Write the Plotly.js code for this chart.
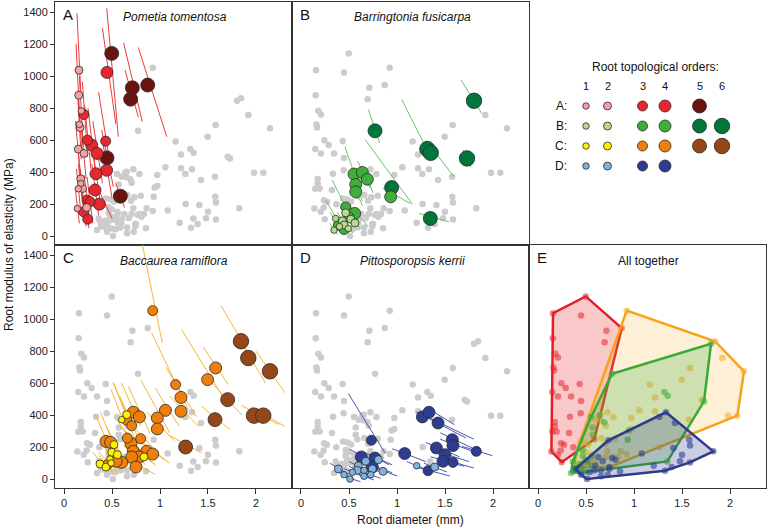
<!DOCTYPE html>
<html>
<head>
<meta charset="utf-8">
<script src="https://cdn.plot.ly/plotly-3.0.1.min.js"></script>
<style>
  html, body { margin: 0; padding: 0; background: #fff; }
  #chart { width: 768px; height: 528px; }
</style>
</head>
<body>
<div id="chart"></div>
<script>
// A: Pometia tomentosa
var aX = [0.497,0.712,0.872,0.694,0.448,0.587, 0.448,0.208,0.243,0.288,0.434,0.344,0.444,0.333,0.323,0.240,0.271,0.368,0.205,0.247, 0.156,0.153,0.180,0.160,0.167,0.149,0.208,0.174,0.174,0.149,0.194,0.236,0.139];
var aY = [1142,927,944,856,489,250, 1023,760,600,569,594,517,412,390,288,225,215,200,152,106, 1037,881,783,698,679,544,517,358,329,296,298,179,173];
var aOrd = [5,5,5,5,5,5, 4,3,3,4,3,4,4,4,4,3,3,4,3,3, 2,2,1,1,2,2,2,2,1,1,2,2,1];
var aSeg = [
  [0.445,1423,0.566,621],[0.621,1208,0.816,715],[0.774,1179,1.070,621],[0.635,1038,0.774,746],
  [0.392,663,0.514,308],[0.540,330,0.630,180],[0.400,1300,0.540,700],[0.191,965,0.246,496],
  [0.215,820,0.280,420],[0.250,800,0.330,380],[0.360,900,0.480,450],[0.300,720,0.400,330],
  [0.400,600,0.500,240],[0.290,580,0.380,200],[0.290,450,0.360,130],[0.210,380,0.270,90],
  [0.240,370,0.300,80],[0.330,330,0.500,110],[0.180,280,0.230,60],[0.230,190,0.260,50],
  [0.135,1392,0.177,870],[0.125,1200,0.165,720],[0.160,1000,0.200,560],[0.140,900,0.180,480],
  [0.150,850,0.190,500],[0.120,720,0.170,380],[0.180,680,0.230,360],[0.150,520,0.200,200],
  [0.150,450,0.190,230],[0.130,420,0.170,180],[0.170,420,0.210,190],[0.220,260,0.250,100],
  [0.120,280,0.160,80]
];

// B: Barringtonia fusicarpa
var bX = [1.802,0.771,1.316,1.351,1.729,0.944,1.347, 0.934,0.552,0.639,0.691,0.570,0.570,0.465,0.559,0.389,0.448,0.500, 0.465,0.518,0.431,0.562,0.361,0.344,0.493,0.400,0.450];
var bY = [846,658,544,521,486,304,111, 246,388,398,356,323,277,183,142,69,42,120, 146,106,96,83,111,38,48,60,70];
var bOrd = [6,5,6,6,6,5,5, 4,4,4,4,4,4,3,4,3,3,3, 2,2,2,2,1,1,1,1,2];
var bSeg = [
  [1.667,975,1.882,767],[0.701,792,0.819,583],[1.049,854,1.330,520],[1.300,600,1.594,371],
  [1.690,540,1.770,430],[0.667,604,1.160,200],[1.229,142,1.542,90],[0.850,300,1.140,204],
  [0.458,558,0.620,280],[0.590,470,0.720,300],[0.660,410,0.750,270],[0.530,400,0.640,220],
  [0.520,360,0.640,190],[0.326,350,0.500,140],[0.500,200,0.700,60],[0.300,150,0.420,40],
  [0.400,90,0.500,20],[0.450,180,0.580,60],[0.420,200,0.500,110],[0.470,150,0.580,70],
  [0.380,150,0.470,60],[0.520,120,0.620,50],[0.257,225,0.400,80],[0.300,80,0.380,10],
  [0.450,80,0.540,20],[0.350,100,0.440,30],[0.400,110,0.500,40]
];

// C: Baccaurea ramiflora
var cX = [1.844,1.920,2.146,1.705,1.573,1.979,2.076,1.267, 0.924,1.580,1.496,1.163,1.219,1.219,1.056,0.972,0.972,0.722,0.785,0.653,0.705,0.437,0.486,0.660,0.698,0.799,0.722,0.861,0.924,0.785,0.705,0.601,0.542,0.750,0.451, 0.653,0.601,0.521,0.497,0.556,0.479,0.490,0.375,0.437,0.833];
var cY = [862,757,674,497,372,397,397,201, 1053,695,622,591,511,424,430,382,314,418,389,368,334,236,230,257,222,253,174,174,157,139,139,105,112,76,91, 403,372,216,168,153,126,101,95,76,139];
var cOrd = [6,6,6,5,5,6,6,5, 3,4,4,3,4,4,4,4,4,4,4,3,3,4,4,3,4,3,4,4,4,4,4,4,4,4,3, 2,1,2,2,2,1,1,2,2,2];
var cSeg = [
  [1.635,1085,1.950,760],[1.800,900,2.100,600],[2.000,800,2.302,540],[1.540,601,1.850,403],
  [1.434,455,1.729,310],[1.850,460,2.240,341],[1.950,450,2.300,330],[1.087,278,1.434,164],
  [0.816,1466,1.024,851],[1.450,826,1.710,591],[1.225,935,1.694,476],[0.913,914,1.295,435],
  [1.060,700,1.380,390],[1.100,520,1.400,330],[0.950,570,1.200,330],[0.800,620,1.100,290],
  [0.860,420,1.150,240],[0.600,600,0.800,330],[0.670,580,0.900,280],[0.520,600,0.740,250],
  [0.580,520,0.800,220],[0.330,400,0.520,130],[0.380,420,0.580,120],[0.550,370,0.780,190],
  [0.600,320,0.820,160],[0.720,330,0.950,180],[0.620,260,0.850,120],[0.750,250,1.050,120],
  [0.820,230,1.100,100],[0.700,200,0.950,90],[0.620,210,0.850,90],[0.520,170,0.750,60],
  [0.450,190,0.700,60],[0.650,130,0.950,30],[0.360,170,0.550,50],[0.510,605,0.700,340],
  [0.490,560,0.650,310],[0.440,330,0.600,150],[0.420,280,0.580,110],[0.480,260,0.640,100],
  [0.420,200,0.540,80],[0.430,170,0.560,60],[0.300,170,0.450,50],[0.360,150,0.520,30],
  [0.760,190,0.950,90]
];

// D: Pittosporopsis kerrii
var dX = [0.733,1.264,1.333,1.427,1.576,1.583,1.410,1.500,1.479,1.583,1.826,1.080,1.323,0.628,0.771,0.743, 0.806,0.674,0.597,0.743,0.656,0.854,0.389,0.448,0.510,0.535,0.656,0.587,1.205,1.392,0.726];
var dY = [243,389,418,351,247,210,195,153,112,105,174,160,53,139,132,76, 122,112,84,64,55,49,64,28,1,43,18,55,84,76,28];
var dOrd = [3,4,4,4,4,4,4,4,4,3,3,4,3,4,4,4, 2,2,2,2,1,2,2,1,1,1,1,2,1,2,1];
var dSeg = [
  [0.493,535,0.875,164],[1.200,420,1.720,257],[1.300,450,1.600,340],[1.350,380,1.800,250],
  [1.450,290,1.800,190],[1.450,250,1.850,160],[1.300,230,1.650,140],[1.380,180,1.750,110],
  [1.350,140,1.700,80],[1.480,125,1.800,70],[1.680,205,1.993,147],[0.950,190,1.300,110],
  [1.200,75,1.550,20],[0.500,190,0.800,90],[0.650,170,0.950,90],[0.620,110,0.950,40],
  [0.720,150,0.920,90],[0.580,140,0.800,80],[0.500,110,0.700,50],[0.650,90,0.880,30],
  [0.560,80,0.760,30],[0.750,75,1.000,20],[0.300,100,0.500,30],[0.360,50,0.550,5],
  [0.420,20,0.620,-15],[0.450,65,0.650,15],[0.560,40,0.760,-5],[0.500,80,0.700,30],
  [1.100,110,1.350,50],[1.280,100,1.520,45],[0.630,50,0.830,5]
];

var speciesKeys = ['A', 'B', 'C', 'D'];
var speciesNames = ['Pometia tomentosa', 'Barringtonia fusicarpa', 'Baccaurea ramiflora', 'Pittosporopsis kerrii'];
var maxOrder = [5, 6, 6, 4];
var orderLabels = ['1', '2', '3', '4', '5', '6'];
var xTicks = [0, 0.5, 1, 1.5, 2];
var xTickText = ['0', '0.5', '1', '1.5', '2'];
var yTicks = [0, 200, 400, 600, 800, 1000, 1200, 1400];

var colores = {
  A: ['#f3a0a6', '#f3a0a6', '#e8262d', '#e8262d', '#6a1410', '#6a1410'],
  B: ['#b5d98e', '#b5d98e', '#3fae3a', '#3fae3a', '#00773a', '#00773a'],
  C: ['#fff200', '#fff200', '#f07e0a', '#f07e0a', '#95471a', '#95471a'],
  D: ['#7fb4e2', '#7fb4e2', '#2e3d91', '#2e3d91', '#2e3d91', '#2e3d91']
};
var lineColors = { A: '#ee3b3b', B: '#6cc46a', C: '#f9b53a', D: '#4b58b3' };
var hullLine = { A: '#e31e26', B: '#3aa935', C: '#f7a21b', D: '#2e3a8c' };
var hullFill = { A: 'rgba(232,38,45,0.25)', B: 'rgba(63,174,58,0.25)', C: 'rgba(249,170,30,0.18)', D: 'rgba(46,61,145,0.25)' };
var dotE = { A: 'rgba(232,38,45,0.55)', B: 'rgba(63,174,58,0.6)', C: 'rgba(247,170,40,0.55)', D: 'rgba(46,61,145,0.6)' };
var sizes = [6.5, 8, 10, 12, 14, 15.5];

var data = {
  A: { x: aX, y: aY, ord: aOrd, seg: aSeg },
  B: { x: bX, y: bY, ord: bOrd, seg: bSeg },
  C: { x: cX, y: cY, ord: cOrd, seg: cSeg },
  D: { x: dX, y: dY, ord: dOrd, seg: dSeg }
};

var panelAxes = { A: ['x', 'y'], B: ['x2', 'y2'], C: ['x4', 'y4'], D: ['x5', 'y5'] };
var traces = [];

speciesKeys.forEach(function (k) {
  var ax = panelAxes[k];
  // grey background: every other species
  var gx = [], gy = [];
  speciesKeys.forEach(function (o) {
    if (o === k) return;
    gx = gx.concat(data[o].x);
    gy = gy.concat(data[o].y);
  });
  traces.push({ x: gx, y: gy, xaxis: ax[0], yaxis: ax[1], mode: 'markers', type: 'scatter',
    marker: { color: '#cdcbcb', size: 6.5, opacity: 1 }, hoverinfo: 'skip' });

  var lx = [], ly = [];
  data[k].seg.forEach(function (s) {
    lx.push(s[0], s[2], null);
    ly.push(s[1], s[3], null);
  });
  traces.push({ x: lx, y: ly, xaxis: ax[0], yaxis: ax[1], mode: 'lines', type: 'scatter',
    line: { color: lineColors[k], width: 1 }, hoverinfo: 'skip' });

  // bigger orders first so small roots sit on top
  var idx = data[k].x.map(function (v, i) { return i; });
  idx.sort(function (p, q) { return data[k].ord[q] - data[k].ord[p]; });
  traces.push({
    x: idx.map(function (i) { return data[k].x[i]; }),
    y: idx.map(function (i) { return data[k].y[i]; }),
    xaxis: ax[0], yaxis: ax[1], mode: 'markers', type: 'scatter',
    marker: {
      color: idx.map(function (i) { return colores[k][data[k].ord[i] - 1]; }),
      size: idx.map(function (i) { return sizes[data[k].ord[i] - 1]; }),
      opacity: 1,
      line: { color: '#2a2a2a', width: 0.8 }
    }
  });
});

// convex hull (monotone chain)
function hull(xs, ys) {
  var pts = xs.map(function (v, i) { return [v, ys[i]]; });
  pts.sort(function (p, q) { return p[0] - q[0] || p[1] - q[1]; });
  function cross(o, a, b) { return (a[0] - o[0]) * (b[1] - o[1]) - (a[1] - o[1]) * (b[0] - o[0]); }
  var lower = [], upper = [];
  pts.forEach(function (p) {
    while (lower.length >= 2 && cross(lower[lower.length - 2], lower[lower.length - 1], p) <= 0) lower.pop();
    lower.push(p);
  });
  pts.slice().reverse().forEach(function (p) {
    while (upper.length >= 2 && cross(upper[upper.length - 2], upper[upper.length - 1], p) <= 0) upper.pop();
    upper.push(p);
  });
  upper.pop(); lower.pop();
  var h = lower.concat(upper);
  h.push(h[0]);
  return h;
}

['A', 'C', 'B', 'D'].forEach(function (k) {
  var h = hull(data[k].x, data[k].y);
  traces.push({ x: h.map(function (p) { return p[0]; }), y: h.map(function (p) { return p[1]; }),
    xaxis: 'x6', yaxis: 'y6', mode: 'lines', type: 'scatter', fill: 'toself',
    fillcolor: hullFill[k], line: { color: hullLine[k], width: 2.5 }, hoverinfo: 'skip' });
  traces.push({ x: data[k].x, y: data[k].y, xaxis: 'x6', yaxis: 'y6', mode: 'markers', type: 'scatter',
    marker: { color: dotE[k], size: 6.5, opacity: 1 } });
});

// legend cell, axis in pixels of the page
var legCols = [586, 607.5, 642.5, 665, 699.5, 722];
var legRows = [106, 126, 146, 166];
var lgx = [], lgy = [], lgc = [], lgs = [];
speciesKeys.forEach(function (k, r) {
  for (var o = 0; o < maxOrder[r]; o++) {
    lgx.push(legCols[o]); lgy.push(legRows[r]);
    lgc.push(colores[k][o]); lgs.push(sizes[o]);
  }
});
traces.push({ x: lgx, y: lgy, xaxis: 'x3', yaxis: 'y3', mode: 'markers', type: 'scatter',
  marker: { color: lgc, size: lgs, opacity: 1, line: { color: '#2a2a2a', width: 0.8 } } });

var xr = [-0.094, 2.375];
var yr = [-55, 1463];
var font = 'Liberation Sans, Arial, sans-serif';

function axis(domain, range, extra) {
  var a = { domain: domain, range: range, showgrid: false, zeroline: false, showline: true, mirror: true,
    linecolor: '#333', linewidth: 1, ticks: '', showticklabels: false, fixedrange: true };
  for (var key in extra) a[key] = extra[key];
  return a;
}
var xTickOpts = { ticks: 'outside', ticklen: 5, tickcolor: '#333', tickvals: xTicks, ticktext: xTickText,
  showticklabels: true, tickfont: { size: 11, color: '#222' } };
var yTickOpts = { ticks: 'outside', ticklen: 4, tickcolor: '#333', tickvals: yTicks,
  showticklabels: true, tickfont: { size: 11, color: '#222' } };

var c1 = [0, 0.3333], c2 = [0.3333, 0.6667], c3 = [0.6667, 1];
var rTop = [0.5, 1], rBot = [0, 0.5];

function P(px, py) { return { x: (px - 55) / 711, y: (488 - py) / 486 }; }
function note(px, py, text, opts) {
  var p = P(px, py);
  var a = { xref: 'paper', yref: 'paper', x: p.x, y: p.y, text: text, showarrow: false,
    font: { family: font, size: 12, color: '#111' }, xanchor: 'center', yanchor: 'middle' };
  for (var key in opts) a[key] = opts[key];
  return a;
}

var annotations = [
  note(61, 14, 'A', { xanchor: 'left', font: { family: font, size: 15, color: '#111' } }),
  note(298, 14, 'B', { xanchor: 'left', font: { family: font, size: 15, color: '#111' } }),
  note(61, 257, 'C', { xanchor: 'left', font: { family: font, size: 15, color: '#111' } }),
  note(298, 257, 'D', { xanchor: 'left', font: { family: font, size: 15, color: '#111' } }),
  note(535, 257, 'E', { xanchor: 'left', font: { family: font, size: 15, color: '#111' } }),
  note(175, 17, '<i>' + speciesNames[0] + '</i>'),
  note(412, 17, '<i>' + speciesNames[1] + '</i>'),
  note(174, 261, '<i>' + speciesNames[2] + '</i>'),
  note(412, 261, '<i>' + speciesNames[3] + '</i>'),
  note(648, 261, 'All together'),
  note(655, 67, 'Root topological orders:', { font: { family: font, size: 12, color: '#111' } }),
  note(410, 520, 'Root diameter (mm)'),
  note(9, 245, 'Root modulus of elasticity (MPa)', { textangle: -90 })
];
orderLabels.forEach(function (t, i) {
  annotations.push(note(legCols[i], 86, t, { font: { family: font, size: 11, color: '#111' } }));
});
speciesKeys.forEach(function (k, r) {
  annotations.push(note(561, legRows[r], k + ':', { font: { family: font, size: 12, color: '#111' } }));
});

var layout = {
  width: 768, height: 528,
  margin: { l: 55, r: 2, t: 2, b: 40 },
  paper_bgcolor: '#ffffff', plot_bgcolor: '#ffffff',
  showlegend: false,
  font: { family: font, size: 11, color: '#222' },
  xaxis: axis(c1, xr, { anchor: 'y' }),
  yaxis: axis(rTop, yr, Object.assign({ anchor: 'x' }, yTickOpts)),
  xaxis2: axis(c2, xr, { anchor: 'y2' }),
  yaxis2: axis(rTop, yr, { anchor: 'x2' }),
  xaxis3: { domain: c3, range: [529, 766], visible: false, anchor: 'y3', fixedrange: true },
  yaxis3: { domain: rTop, range: [245, 2], visible: false, anchor: 'x3', fixedrange: true },
  xaxis4: axis(c1, xr, Object.assign({ anchor: 'y4' }, xTickOpts)),
  yaxis4: axis(rBot, yr, Object.assign({ anchor: 'x4' }, yTickOpts)),
  xaxis5: axis(c2, xr, Object.assign({ anchor: 'y5' }, xTickOpts)),
  yaxis5: axis(rBot, yr, { anchor: 'x5' }),
  xaxis6: axis(c3, xr, Object.assign({ anchor: 'y6' }, xTickOpts)),
  yaxis6: axis(rBot, yr, { anchor: 'x6' }),
  annotations: annotations
};

Plotly.newPlot('chart', traces, layout, { displayModeBar: false, staticPlot: true });
</script>
</body>
</html>
